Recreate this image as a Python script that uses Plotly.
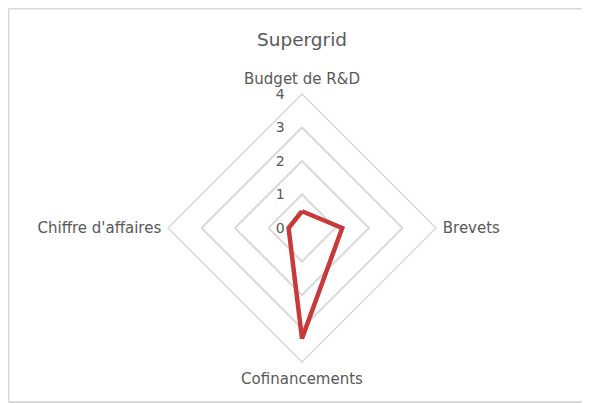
import plotly.graph_objects as go

# chart data
categories = ["Budget de R&D", "Brevets", "Cofinancements", "Chiffre d'affaires"]
scores = [0.5, 1.2, 3.3, 0.4]
radial_ticks = [0, 1, 2, 3, 4]

W, H = 590, 403
OFF = 8  # page body margin shifts the figure by 8px
cx, cy, rad = 302 - OFF, 228 - OFF, 134  # centre and radius of the radar, in px

fig = go.Figure()

fig.add_trace(go.Scatterpolar(
    r=scores + scores[:1],
    theta=categories + categories[:1],
    mode="lines",
    line=dict(color="#C8393A", width=4.5),
    name="Supergrid",
    showlegend=False,
))

# chart-area frame: top, left and bottom edges (the right edge is off-screen)
top, bottom = 1 - 0.5 / H, 1 - (402 - OFF) / H
left = 0.5 / W
frame = dict(color="#D9D9D9", width=2)
shapes = [
    dict(type="line", xref="paper", yref="paper", x0=left, x1=1.2, y0=top, y1=top, line=frame),
    dict(type="line", xref="paper", yref="paper", x0=left, x1=1.2, y0=bottom, y1=bottom, line=frame),
    dict(type="line", xref="paper", yref="paper", x0=left, x1=left, y0=bottom, y1=top, line=frame),
]

fig.update_layout(
    width=W, height=H,
    margin=dict(l=0, r=0, t=0, b=0),
    paper_bgcolor="white",
    font=dict(family="DejaVu Sans, sans-serif", color="#595959", size=15),
    title=dict(text="Supergrid", x=cx / W, xanchor="center",
               y=1 - (40 - OFF) / H, yanchor="middle", yref="container",
               font=dict(size=18.5, color="#595959")),
    polar=dict(
        domain=dict(x=[(cx - rad) / W, (cx + rad) / W],
                    y=[(H - cy - rad) / H, (H - cy + rad) / H]),
        bgcolor="white",
        gridshape="linear",
        radialaxis=dict(
            range=[0, 4], tickvals=radial_ticks, angle=90, tickangle=90,
            side="counterclockwise", showline=False,
            ticks="outside", ticklen=12, tickcolor="rgba(0,0,0,0)",
            gridcolor="#D9D9D9", gridwidth=1.5,
            tickfont=dict(size=14, color="#595959"),
        ),
        angularaxis=dict(
            rotation=90, direction="clockwise", showgrid=False,
            showline=True, linecolor="#D9D9D9", linewidth=1.5,
            ticks="outside", ticklen=3, tickcolor="rgba(0,0,0,0)",
            tickfont=dict(size=15, color="#595959"),
        ),
    ),
    shapes=shapes,
)

fig.write_html("out.html")
